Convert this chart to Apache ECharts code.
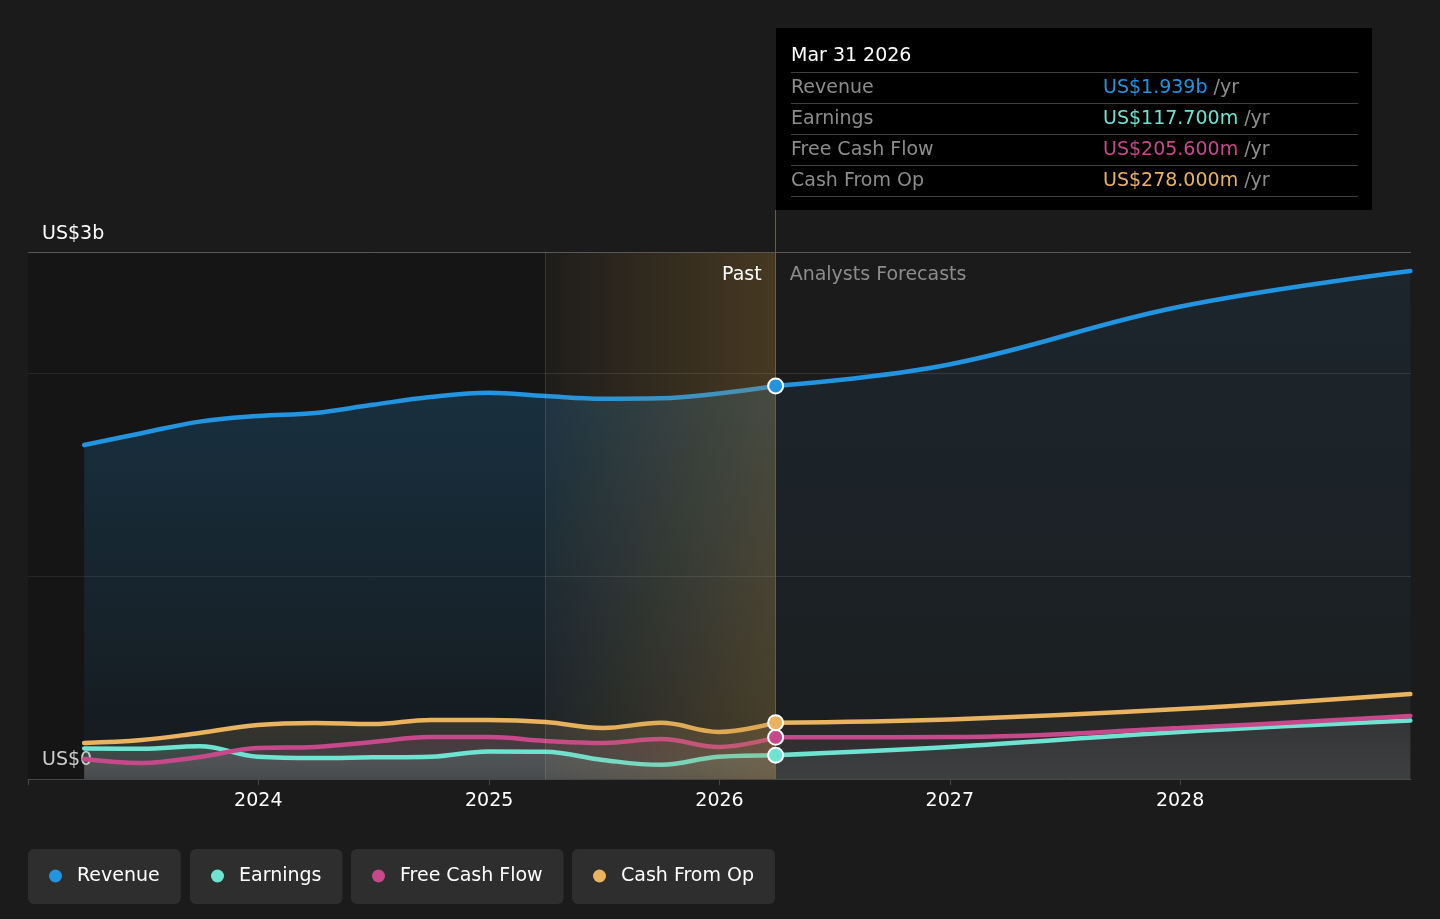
<!DOCTYPE html>
<html>
<head>
<meta charset="utf-8">
<title>Revenue, earnings and cash flow</title>
<script src="https://cdn.jsdelivr.net/npm/echarts@6.0.0/dist/echarts.min.js"></script>
<style>
  html, body { margin: 0; padding: 0; background: #1b1b1b; }
  #chart { width: 1440px; height: 919px; }
</style>
</head>
<body>
<div id="chart"></div>
<script>
// past, reported (US$ billions, trailing twelve months)
var pastDates = ['2023-03-31', '2023-06-30', '2023-09-30', '2023-12-31', '2024-03-31', '2024-06-30',
                 '2024-09-30', '2024-12-31', '2025-03-31', '2025-06-30', '2025-09-30', '2025-12-31', '2026-03-31'];
var revenuePast  = [1.648, 1.706, 1.763, 1.791, 1.806, 1.846, 1.884, 1.905, 1.889, 1.876, 1.878, 1.902, 1.939];
var earningsPast = [0.151, 0.149, 0.162, 0.110, 0.103, 0.107, 0.110, 0.136, 0.134, 0.094, 0.070, 0.110, 0.1177];
var fcfPast      = [0.099, 0.079, 0.109, 0.153, 0.158, 0.183, 0.207, 0.207, 0.188, 0.178, 0.197, 0.158, 0.2056];
var cfoPast      = [0.178, 0.192, 0.227, 0.266, 0.276, 0.271, 0.291, 0.291, 0.281, 0.252, 0.277, 0.232, 0.278];

// analysts forecasts
var forecastDates = ['2026-03-31', '2026-12-31', '2027-12-31', '2028-12-31'];
var revenueFc  = [1.939, 2.045, 2.330, 2.506];
var earningsFc = [0.1177, 0.158, 0.232, 0.288];
var fcfFc      = [0.2056, 0.207, 0.251, 0.311];
var cfoFc      = [0.278, 0.294, 0.345, 0.419];

var names  = ['Revenue', 'Earnings', 'Free Cash Flow', 'Cash From Op'];
var colors = ['#2394df', '#6fe3d2', '#c64a8b', '#e9b35f'];
var yearTicks = ['2023-01-01', '2029-01-01'];
var highlightStart = '2025-03-31';
var nowDate = '2026-03-31';
var topValue = 2.6, topLabel = 'US$3b';
var yMax = 2.807;

var FONT = 'DejaVu Sans';
var months = ['Jan','Feb','Mar','Apr','May','Jun','Jul','Aug','Sep','Oct','Nov','Dec'];

function ts(s) {
  var p = s.split('-');
  return new Date(+p[0], +p[1] - 1, +p[2]).getTime();
}
function rgba(hex, a) {
  var n = parseInt(hex.slice(1), 16);
  return 'rgba(' + (n >> 16) + ',' + ((n >> 8) & 255) + ',' + (n & 255) + ',' + a + ')';
}
function money(v) {
  return v >= 1 ? 'US$' + v.toFixed(3) + 'b' : 'US$' + (v * 1000).toFixed(3) + 'm';
}

var pastVals = [revenuePast, earningsPast, fcfPast, cfoPast];
var fcVals = [revenueFc, earningsFc, fcfFc, cfoFc];

var myChart = echarts.init(document.getElementById('chart'));

var series = [];
names.forEach(function (name, k) {
  var c = colors[k];
  var pastArea, fcArea;
  if (k === 0) {
    pastArea = { type: 'linear', x: 0, y: 0, x2: 0, y2: 1, colorStops: [
      { offset: 0, color: rgba(c, 0.3) }, { offset: 1, color: rgba(c, 0.05) }] };
    fcArea = { type: 'linear', x: 0, y: 0, x2: 0, y2: 1, colorStops: [
      { offset: 0, color: rgba(c, 0.13) }, { offset: 1, color: rgba(c, 0.03) }] };
  } else {
    pastArea = { type: 'linear', x: 0, y: 0, x2: 0, y2: 1, colorStops: [
      { offset: 0, color: rgba(c, 0.22) }, { offset: 1, color: 'rgba(255,255,255,0.11)' }] };
    fcArea = { type: 'linear', x: 0, y: 0, x2: 0, y2: 1, colorStops: [
      { offset: 0, color: rgba(c, 0.08) }, { offset: 1, color: 'rgba(255,255,255,0.075)' }] };
  }
  series.push({
    name: name, type: 'line', z: 2, color: c, smooth: 0.4, symbol: 'none',
    lineStyle: { width: 4.5, color: c, cap: 'round' },
    areaStyle: { color: pastArea, origin: 'start' },
    silent: true, animation: false,
    data: pastDates.map(function (d, i) { return [ts(d), pastVals[k][i]]; })
  });
  series.push({
    name: name, type: 'line', z: 6, color: c, smooth: 0.4, symbol: 'none',
    lineStyle: { width: 4.5, color: c, cap: 'round' },
    areaStyle: { color: fcArea, origin: 'start' },
    silent: true, animation: false,
    data: forecastDates.map(function (d, i) {
      var item = { value: [ts(d), fcVals[k][i]] };
      if (i === 0) {
        item.symbol = 'circle';
        item.symbolSize = 15;
        item.itemStyle = { color: c, borderColor: '#ffffff', borderWidth: 2 };
      }
      return item;
    })
  });
});

// darker "past" band under the areas + the forecast label
series[0].markArea = {
  silent: true, z: 1,
  data: [
    [{ xAxis: ts(yearTicks[0]), yAxis: 0, itemStyle: { color: 'rgba(0,0,0,0.2)' } },
     { xAxis: ts(highlightStart), yAxis: topValue }],
    [{ xAxis: ts(nowDate), yAxis: 0, itemStyle: { color: 'rgba(0,0,0,0)' },
       label: { show: true, position: 'insideTopLeft', distance: 14, formatter: 'Analysts Forecasts',
                color: '#8c8c8c', fontSize: 19, fontFamily: FONT } },
     { xAxis: ts(yearTicks[1]), yAxis: topValue }]
  ]
};
// brown last-year highlight drawn over the past lines
series[2].markArea = {
  silent: true, z: 5,
  data: [
    [{ xAxis: ts(highlightStart), yAxis: 0,
       itemStyle: { color: { type: 'linear', x: 0, y: 0, x2: 1, y2: 0, colorStops: [
         { offset: 0, color: 'rgba(184,134,50,0.02)' }, { offset: 1, color: 'rgba(184,134,50,0.28)' }] } },
       label: { show: true, position: 'insideTopRight', distance: 14, formatter: 'Past',
                color: '#ffffff', fontSize: 19, fontFamily: FONT } },
     { xAxis: ts(nowDate), yAxis: topValue }]
  ]
};
series[4].markLine = {
  silent: true, z: 5, symbol: ['none', 'none'], animation: false,
  data: [
    { yAxis: topValue, lineStyle: { color: '#585858', width: 1, type: 'solid' },
      label: { show: true, position: 'insideStartTop', formatter: topLabel, distance: [14, 8],
               color: '#ffffff', fontSize: 19, fontFamily: FONT } },
    [{ coord: [ts(highlightStart), 0], lineStyle: { color: 'rgba(255,255,255,0.12)', width: 1, type: 'solid' }, label: { show: false } },
     { coord: [ts(highlightStart), topValue] }],
    [{ coord: [ts(nowDate), 0], lineStyle: { color: '#6e5c3c', width: 1, type: 'solid' }, label: { show: false } },
     { coord: [ts(nowDate), yMax] }]
  ]
};

var legendLeft = [28, 190, 351, 572];
var legends = names.map(function (name, k) {
  return {
    data: [{ name: name }], left: legendLeft[k], top: 849, orient: 'horizontal',
    backgroundColor: '#2e2e2e', borderRadius: 6, padding: [16, 21, 17, 21],
    icon: 'circle', itemWidth: 13, itemHeight: 13, selectedMode: false,
    itemStyle: { borderWidth: 0 },
    textStyle: { color: '#ffffff', fontSize: 19, fontFamily: FONT, lineHeight: 22, padding: [0, 0, 0, 10] }
  };
});

function tooltipHtml() {
  var p = nowDate.split('-');
  var html = '<div style="font-size:19px;line-height:26px;color:#fff;margin-bottom:5px">' +
             months[+p[1] - 1] + ' ' + p[2] + ' ' + p[0] + '</div>';
  names.forEach(function (name, k) {
    var v = pastVals[k][pastVals[k].length - 1];
    html += '<div style="display:flex;border-top:1px solid #3e3e3e;font-size:19px;line-height:26px;padding-bottom:4px">' +
            '<span style="width:312px;color:#8c8c8c">' + name + '</span>' +
            '<span style="color:' + colors[k] + '">' + money(v) + '</span>' +
            '<span style="color:#8c8c8c">&nbsp;/yr</span></div>';
  });
  html += '<div style="border-top:1px solid #3e3e3e"></div>';
  return html;
}

var option = {
  backgroundColor: '#1b1b1b',
  animation: false,
  textStyle: { fontFamily: FONT },
  grid: { left: 28, right: 29, top: 210, bottom: 140 },
  legend: legends,
  tooltip: {
    trigger: 'item', triggerOn: 'none', alwaysShowContent: true,
    position: [776, 28], transitionDuration: 0,
    backgroundColor: '#000000', borderWidth: 0, padding: [13, 14, 13, 15],
    extraCssText: 'border-radius:0;box-shadow:none;width:567px;font-family:"DejaVu Sans";',
    formatter: tooltipHtml
  },
  xAxis: {
    type: 'time', min: ts(yearTicks[0]), max: ts(yearTicks[1]),
    minInterval: 365 * 24 * 3600 * 1000, maxInterval: 366 * 24 * 3600 * 1000,
    axisLine: { lineStyle: { color: '#484848', width: 1 } },
    axisTick: { show: true, length: 6, lineStyle: { color: '#484848' } },
    splitLine: { show: false },
    axisLabel: { color: '#ffffff', fontSize: 19, fontFamily: FONT, margin: 13,
                 formatter: function (v) {
                   if (v <= ts(yearTicks[0]) || v >= ts(yearTicks[1])) return '';
                   return String(new Date(v).getFullYear());
                 } }
  },
  yAxis: {
    type: 'value', min: 0, max: yMax, interval: 1,
    axisLine: { show: false }, axisTick: { show: false },
    splitLine: { show: true, showMinLine: false, showMaxLine: false, lineStyle: { color: '#333333', width: 1 } },
    axisLabel: { inside: true, margin: 14, color: '#ffffff', fontSize: 19, fontFamily: FONT,
                 verticalAlign: 'bottom', padding: [0, 0, 9, 0],
                 formatter: function (v) { return v === 0 ? 'US$0' : ''; } }
  },
  series: series
};

myChart.setOption(option);
setTimeout(function () {
  myChart.dispatchAction({ type: 'showTip', seriesIndex: 1, dataIndex: 0 });
}, 50);
</script>
</body>
</html>
